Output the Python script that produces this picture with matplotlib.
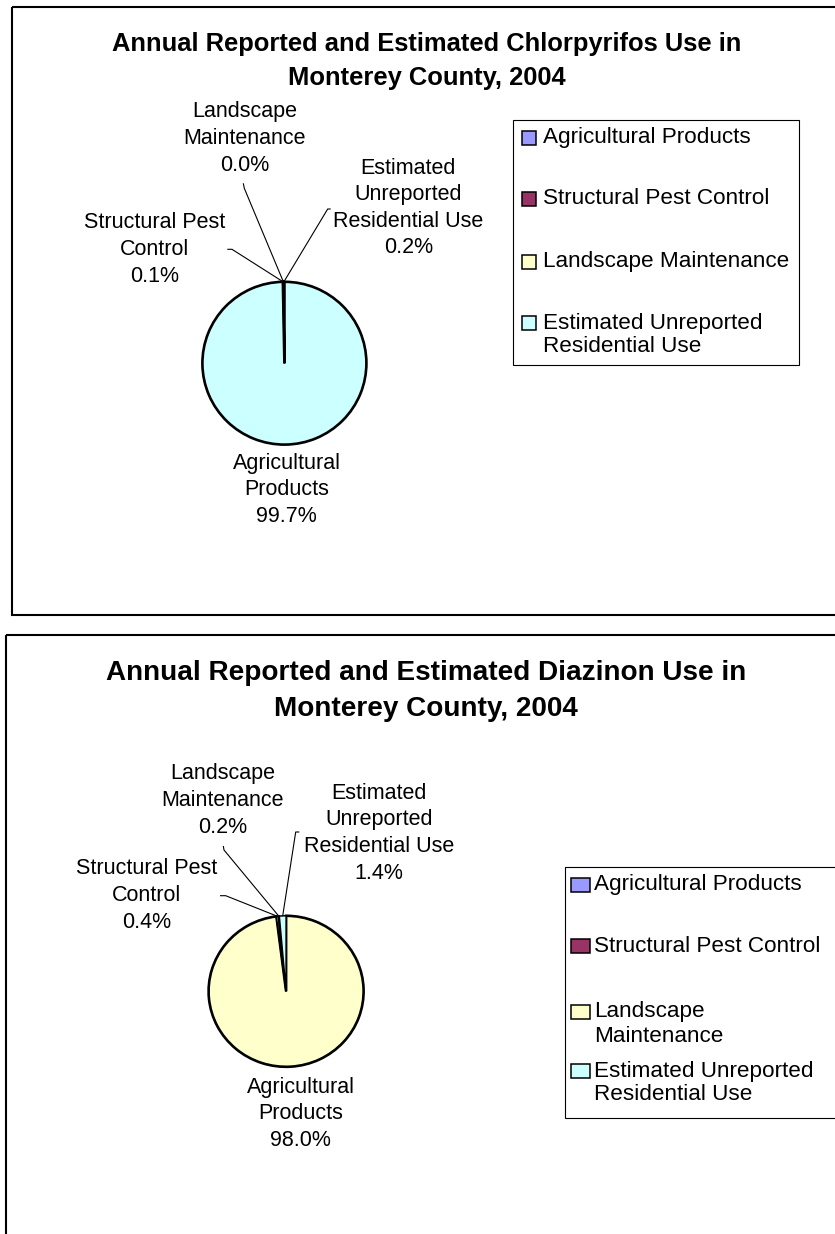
import matplotlib
matplotlib.use("Agg")
import matplotlib.pyplot as plt
from matplotlib.patches import Rectangle
import numpy as np

plt.rcParams['font.family'] = ['Liberation Sans', 'DejaVu Sans']

# ---------------- data ----------------
categories = ["Agricultural Products", "Structural Pest Control",
              "Landscape Maintenance", "Estimated Unreported Residential Use"]
legend_colors = ["#9999FF", "#993366", "#FFFFCC", "#CCFFFF"]

pie_label_names = ["Agricultural\nProducts", "Structural Pest\nControl",
                   "Landscape\nMaintenance", "Estimated\nUnreported\nResidential Use"]

chlor_title = "Annual Reported and Estimated Chlorpyrifos Use in\nMonterey County, 2004"
chlor_values = [99.7, 0.1, 0.0, 0.2]
chlor_slice_colors = ["#CCFFFF", "#CCFFFF", "#CCFFFF", "#CCFFFF"]
chlor_legend_labels = ["Agricultural Products", "Structural Pest Control",
                       "Landscape Maintenance", "Estimated Unreported\nResidential Use"]

diaz_title = "Annual Reported and Estimated Diazinon Use in\nMonterey County, 2004"
diaz_values = [98.0, 0.4, 0.2, 1.4]
diaz_slice_colors = ["#FFFFCC", "#FFFFCC", "#FFFFCC", "#CCFFFF"]
diaz_legend_labels = ["Agricultural Products", "Structural Pest Control",
                      "Landscape\nMaintenance", "Estimated Unreported\nResidential Use"]

# ---------------- layout (pixels) ----------------
W, H = 835, 1234
panels = [
    dict(title=chlor_title, title_size=18.4, title_x=426.5, title_y=44, title_pitch=33.5,
         frame=(11.5, 6.7, 845, 615),
         values=chlor_values, colors=chlor_slice_colors,
         center=(284.4, 363.2), rx=82, ry=81.4,
         label_pos=[(286.6, 463), (154.4, 223), (244.4, 112), (408.4, 168)],
         leader=[None, [(227.3, 249.3), (232, 249.3)], [(243.3, 183.3), (244.3, 188.3)],
                 [(330.7, 209), (327.7, 209)]],
         legend_box=(513.3, 120, 799, 365), legend_rows=[138, 199, 262, 323],
         marker=(522.3, 14, 14), text_x=543.3, legend_labels=chlor_legend_labels),
    dict(title=diaz_title, title_size=20.1, title_x=426, title_y=673, title_pitch=36.4,
         frame=(5.7, 635, 845, 1240),
         values=diaz_values, colors=diaz_slice_colors,
         center=(286.1, 991.3), rx=77.5, ry=75.5,
         label_pos=[(300.7, 1087), (146.7, 869), (222.5, 774), (379, 793.3)],
         leader=[None, [(220, 895.7), (225.7, 895.7)], [(223.3, 846), (224, 850)],
                 [(299.3, 832), (295.7, 832)]],
         legend_box=(565, 866.7, 845, 1118.3), legend_rows=[884.5, 946, 1012, 1071],
         marker=(571, 19, 14), text_x=594.3, legend_labels=diaz_legend_labels),
]
label_pitch = 26.6
legend_pitch = 24.0
label_size = 15.5
legend_size = 16.2

fig = plt.figure(figsize=(W / 100, H / 100), dpi=100)
fig.patch.set_facecolor("white")
overlay = fig.add_axes([0, 0, 1, 1])
overlay.set_xlim(0, W)
overlay.set_ylim(H, 0)
overlay.axis("off")

for p in panels:
    # frame
    x0, y0, x1, y1 = p["frame"]
    overlay.add_patch(Rectangle((x0, y0), x1 - x0, y1 - y0, fill=False,
                                edgecolor="black", linewidth=1.5, clip_on=False))
    # title
    for i, line in enumerate(p["title"].split("\n")):
        overlay.text(p["title_x"], p["title_y"] + i * p["title_pitch"], line,
                     ha="center", va="center", fontsize=p["title_size"],
                     fontweight="bold", color="black")
    # pie
    cx, cy = p["center"]
    rx, ry = p["rx"], p["ry"]
    ax = fig.add_axes([(cx - rx) / W, 1 - (cy + ry) / H, 2 * rx / W, 2 * ry / H])
    wedges, _ = ax.pie(p["values"], colors=p["colors"], startangle=90,
                       counterclock=False, radius=1,
                       wedgeprops=dict(edgecolor="black", linewidth=1.9))
    for j, w in enumerate(wedges):
        w.set_clip_on(False)
        if j > 0:
            w.set_linewidth(1.1)
    ax.set_xlim(-1, 1)
    ax.set_ylim(-1, 1)
    ax.set_aspect("auto")
    ax.axis("off")

    # labels and leader lines
    for k, (name, val) in enumerate(zip(pie_label_names, p["values"])):
        lines = name.split("\n") + [f"{val:.1f}%"]
        lx, ly = p["label_pos"][k]
        for i, line in enumerate(lines):
            overlay.text(lx, ly + i * label_pitch, line, ha="center", va="center",
                         fontsize=label_size, color="black")
        if p["leader"][k] is not None:
            w = wedges[k]
            mid = np.deg2rad((w.theta1 + w.theta2) / 2)
            disp = ax.transData.transform((np.cos(mid), np.sin(mid)))
            ex, ey = overlay.transData.inverted().transform(disp)
            pts = p["leader"][k] + [(ex, ey)]
            overlay.plot([q[0] for q in pts], [q[1] for q in pts], color="black",
                         linewidth=0.8, solid_capstyle="butt")

    # legend
    bx0, by0, bx1, by1 = p["legend_box"]
    overlay.add_patch(Rectangle((bx0, by0), bx1 - bx0, by1 - by0, fill=True,
                                facecolor="white", edgecolor="black", linewidth=0.8,
                                clip_on=False, zorder=3))
    mx, mw, mh = p["marker"]
    for k, (lab, col) in enumerate(zip(p["legend_labels"], legend_colors)):
        ry0 = p["legend_rows"][k]
        overlay.add_patch(Rectangle((mx, ry0 - mh / 2), mw, mh, facecolor=col,
                                    edgecolor="black", linewidth=1.1, zorder=4))
        for i, line in enumerate(lab.split("\n")):
            overlay.text(p["text_x"], ry0 + i * legend_pitch, line, ha="left",
                         va="center", fontsize=legend_size, color="black", zorder=5)

fig.savefig("out.png", dpi=100, facecolor="white")
